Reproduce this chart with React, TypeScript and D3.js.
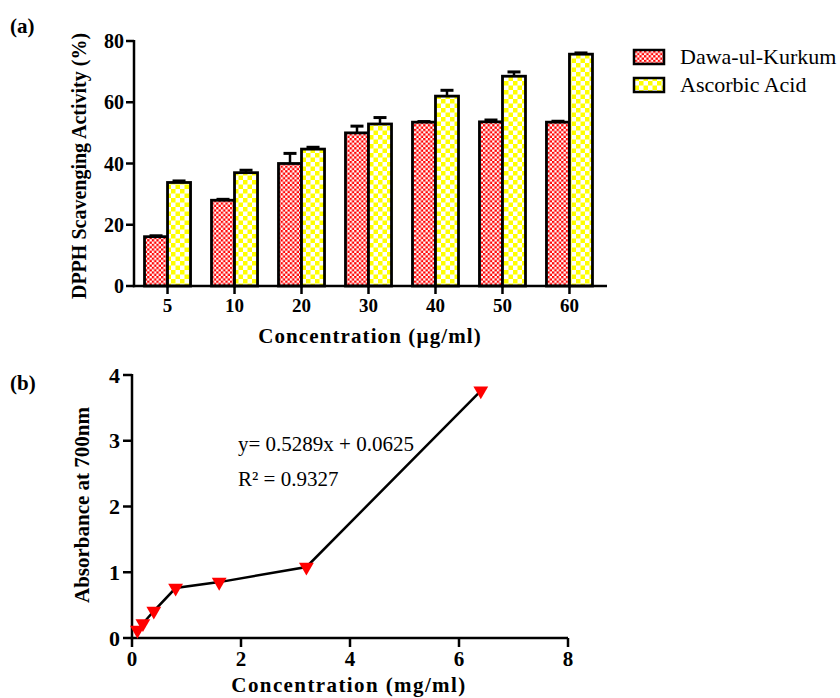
import React from 'react';
import * as d3 from 'd3';

const concentrations = ['5', '10', '20', '30', '40', '50', '60'];
const dawaMean = [16.1, 28.0, 40.0, 50.0, 53.5, 53.6, 53.5];
const dawaErr = [0.3, 0.3, 3.3, 2.2, 0.2, 0.6, 0.3];
const ascMean = [33.8, 37.0, 44.7, 52.9, 62.0, 68.5, 75.7];
const ascErr = [0.5, 0.8, 0.6, 2.1, 1.9, 1.4, 0.4];
const yTicksA = [0, 20, 40, 60, 80];
const seriesNames = ['Dawa-ul-Kurkum', 'Ascorbic Acid'];

const absConc = [0.1, 0.2, 0.4, 0.8, 1.6, 3.2, 6.4];
const absVal = [0.12, 0.22, 0.41, 0.76, 0.85, 1.08, 3.76];
const xTicksB = [0, 2, 4, 6, 8];
const yTicksB = [0, 1, 2, 3, 4];

const FONT = '"Liberation Serif", "Times New Roman", serif';

export default function App() {
  // Panel (a)
  const xA = d3.scaleBand<string>().domain(concentrations).range([134, 603]).paddingInner(0.313).paddingOuter(0.157);
  const x1 = d3.scaleBand<string>().domain(['dawa', 'asc']).range([0, xA.bandwidth()]);
  const yA = d3.scaleLinear().domain([0, 80]).range([286, 41]);
  const series = [
    { key: 'dawa', mean: dawaMean, err: dawaErr, fill: 'url(#redCheck)' },
    { key: 'asc', mean: ascMean, err: ascErr, fill: 'url(#yellowCheck)' },
  ];

  // Panel (b)
  const xB = d3.scaleLinear().domain([0, 8]).range([132, 568]);
  const yB = d3.scaleLinear().domain([0, 4]).range([638, 375]);
  const pts = absConc.map((c, i) => [c, absVal[i]] as [number, number]);
  const line = d3.line<[number, number]>().x(d => xB(d[0])).y(d => yB(d[1]));
  const tri = d3.symbol().type(d3.symbolTriangle).size(95)();

  return (
    <svg width={840} height={698} style={{ position: 'absolute', left: 0, top: 0, background: '#fff' }} fontFamily={FONT}>
      <defs>
        <pattern id="redCheck" width={4.6} height={4.6} patternUnits="userSpaceOnUse">
          <rect width={4.6} height={4.6} fill="#fff" />
          <rect x={0} y={0} width={2.3} height={2.3} fill="#ff0000" />
          <rect x={2.3} y={2.3} width={2.3} height={2.3} fill="#ff0000" />
        </pattern>
        <pattern id="yellowCheck" width={9} height={9} patternUnits="userSpaceOnUse">
          <rect width={9} height={9} fill="#fff" />
          <rect x={0} y={0} width={4.5} height={4.5} fill="#ffff00" />
          <rect x={4.5} y={4.5} width={4.5} height={4.5} fill="#ffff00" />
        </pattern>
      </defs>

      {/* Panel (a) */}
      <text x={10} y={33} fontSize={21} fontWeight="bold">(a)</text>
      <g>
        {series.map(s =>
          concentrations.map((c, i) => {
            const x0 = (xA(c) as number) + (x1(s.key) as number);
            const w = x1.bandwidth();
            const top = yA(s.mean[i]);
            const et = yA(s.mean[i] + s.err[i]);
            const cx = x0 + w / 2;
            return (
              <g key={s.key + c}>
                <line x1={cx} x2={cx} y1={top} y2={et} stroke="#000" strokeWidth={2.5} />
                <line x1={cx - 6.5} x2={cx + 6.5} y1={et} y2={et} stroke="#000" strokeWidth={3} />
                <rect x={x0} y={top} width={w} height={yA(0) - top} fill={s.fill} stroke="#000" strokeWidth={2.8} />
              </g>
            );
          })
        )}
        {/* axes */}
        <line x1={134} x2={134} y1={40} y2={287.2} stroke="#000" strokeWidth={2.5} />
        <line x1={132.8} x2={607} y1={286} y2={286} stroke="#000" strokeWidth={2.5} />
        {yTicksA.map(t => (
          <g key={t}>
            <line x1={126} x2={134} y1={yA(t)} y2={yA(t)} stroke="#000" strokeWidth={2.5} />
            <text x={124} y={yA(t)} dy="0.35em" textAnchor="end" fontSize={20} fontWeight="bold">{t}</text>
          </g>
        ))}
        {concentrations.map(c => {
          const cx = (xA(c) as number) + xA.bandwidth() / 2;
          return (
            <g key={c}>
              <line x1={cx} x2={cx} y1={286} y2={294} stroke="#000" strokeWidth={2.5} />
              <text x={cx} y={312} textAnchor="middle" fontSize={19} fontWeight="bold">{c}</text>
            </g>
          );
        })}
        <text x={370} y={343} textAnchor="middle" fontSize={21} fontWeight="bold" letterSpacing={1.1}>Concentration (µg/ml)</text>
        <text transform="translate(86,166) rotate(-90)" textAnchor="middle" fontSize={20} fontWeight="bold">DPPH Scavenging Activity (%)</text>
        {/* legend */}
        {seriesNames.map((n, i) => (
          <g key={n}>
            <rect x={634} y={50 + i * 28} width={30} height={14} fill={series[i].fill} stroke="#000" strokeWidth={2.5} />
            <text x={680} y={64 + i * 28} fontSize={22}>{n}</text>
          </g>
        ))}
      </g>

      {/* Panel (b) */}
      <text x={10} y={390} fontSize={21} fontWeight="bold">(b)</text>
      <g>
        <line x1={132} x2={132} y1={374} y2={639.2} stroke="#000" strokeWidth={2.5} />
        <line x1={130.8} x2={568} y1={638} y2={638} stroke="#000" strokeWidth={2.5} />
        {yTicksB.map(t => (
          <g key={t}>
            <line x1={123} x2={132} y1={yB(t)} y2={yB(t)} stroke="#000" strokeWidth={2.5} />
            <text x={120} y={yB(t)} dy="0.35em" textAnchor="end" fontSize={22} fontWeight="bold">{t}</text>
          </g>
        ))}
        {xTicksB.map(t => (
          <g key={t}>
            <line x1={xB(t)} x2={xB(t)} y1={638} y2={647} stroke="#000" strokeWidth={2.5} />
            <text x={xB(t)} y={666} textAnchor="middle" fontSize={21} fontWeight="bold">{t}</text>
          </g>
        ))}
        <path d={line(pts) || ''} fill="none" stroke="#000" strokeWidth={2.5} />
        {pts.map((p, i) => (
          <path key={i} d={tri || ''} transform={`translate(${xB(p[0])},${yB(p[1])}) rotate(180)`} fill="#ff0000" />
        ))}
        <text x={238} y={451} fontSize={21}>y= 0.5289x + 0.0625</text>
        <text x={238} y={486} fontSize={21}>R² = 0.9327</text>
        <text x={349} y={692} textAnchor="middle" fontSize={21} fontWeight="bold" letterSpacing={1.4}>Concentration (mg/ml)</text>
        <text transform="translate(89,505) rotate(-90)" textAnchor="middle" fontSize={21} fontWeight="bold">Absorbance at 700nm</text>
      </g>
    </svg>
  );
}
